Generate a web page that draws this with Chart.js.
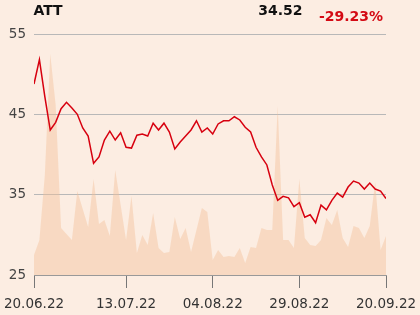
<!DOCTYPE html>
<html>
<head>
<meta charset="utf-8">
<script src="https://cdn.jsdelivr.net/npm/chart.js@4"></script>
<style>
  html, body { margin: 0; padding: 0; background: #fcede2; }
  #wrap { width: 420px; height: 315px; }
</style>
</head>
<body>
<div id="wrap"><canvas id="chart" width="420" height="315"></canvas></div>
<script>
    const symbol = 'ATT';
    const lastPrice = '34.52';
    const change = '-29.23%';

    // tick labels and the trading-day index they sit on
    const tickDates = ['20.06.22', '13.07.22', '04.08.22', '29.08.22', '20.09.22'];
    const tickIndex = [0, 17, 33, 49, 65];

    // closing prices, one per trading day
    const prices = [
        48.78, 51.8, 47.2, 43.05, 44.0, 45.7, 46.5, 45.8, 45.0, 43.3,
        42.3, 38.9, 39.7, 41.8, 42.9, 41.8, 42.7, 40.9, 40.8, 42.4,
        42.55, 42.3, 43.9, 43.05, 43.9, 42.8, 40.7, 41.55, 42.3, 43.05,
        44.2, 42.8, 43.3, 42.55, 43.8, 44.2, 44.2, 44.7, 44.3, 43.4,
        42.8, 40.9, 39.7, 38.7, 36.2, 34.3, 34.8, 34.6, 33.5, 34.0,
        32.2, 32.5, 31.5, 33.7, 33.1, 34.3, 35.2, 34.7, 35.95, 36.7,
        36.45, 35.7, 36.45, 35.7, 35.45, 34.52
    ];

    // traded volume (relative units), same days
    const volumes = [
        20, 35, 100, 221, 170, 47, 41, 35, 84, 66,
        48, 96, 51, 55, 39, 105, 70, 35, 79, 22,
        40, 30, 62, 27, 22, 23, 58, 36, 47, 23,
        45, 67, 63, 15, 25, 18, 19, 18, 27, 12,
        28, 27, 47, 45, 45, 169, 35, 35, 27, 96,
        37, 30, 29, 35, 57, 50, 65, 37, 28, 49,
        47, 37, 49, 93, 25, 39
    ];

    const dayIdx = prices.map((_, i) => i);

    const headerPlugin = {
        id: 'header',
        beforeDraw(chart) {
            const ctx = chart.ctx;
            ctx.save();
            ctx.fillStyle = '#fcede2';
            ctx.fillRect(0, 0, chart.width, chart.height);
            ctx.restore();
        },
        afterDraw(chart) {
            const ctx = chart.ctx;
            ctx.save();
            ctx.font = 'bold 14px "DejaVu Sans"';
            ctx.textBaseline = 'alphabetic';
            ctx.fillStyle = '#111';
            ctx.textAlign = 'left';
            ctx.fillText(symbol, 33.5, 15);
            ctx.textAlign = 'right';
            ctx.fillText(lastPrice, 302.5, 15);
            ctx.fillStyle = '#d40a14';
            ctx.textAlign = 'left';
            ctx.fillText(change, 319, 21);
            ctx.restore();
        }
    };

    new Chart(document.getElementById('chart').getContext('2d'), {
        type: 'line',
        data: {
            labels: dayIdx,
            datasets: [{
                data: prices,
                yAxisID: 'y',
                borderColor: '#d7000f',
                borderWidth: 1.5,
                pointRadius: 0,
                tension: 0,
                fill: false,
                order: 0
            }, {
                data: volumes,
                yAxisID: 'vol',
                borderWidth: 0,
                pointRadius: 0,
                tension: 0,
                fill: 'origin',
                backgroundColor: 'rgba(244,190,150,0.42)',
                order: 1
            }]
        },
        options: {
            responsive: false,
            animation: false,
            layout: { padding: { top: 34, right: 34, left: 0, bottom: 0 } },
            plugins: { legend: { display: false }, tooltip: { enabled: false } },
            scales: {
                x: {
                    type: 'linear',
                    min: 0,
                    max: 65,
                    afterBuildTicks: s => { s.ticks = tickIndex.map(v => ({ value: v })); },
                    afterFit: s => {
                        s.height = 40;
                        s.paddingLeft = 0;
                        s.paddingRight = 0;
                    },
                    grid: { drawOnChartArea: false, drawTicks: true, tickLength: 13, color: '#777' },
                    border: { display: true, color: '#999' },
                    ticks: {
                        autoSkip: false,
                        maxRotation: 0,
                        padding: 8,
                        color: '#333',
                        font: { family: 'DejaVu Sans', size: 13.5 },
                        callback: v => tickDates[tickIndex.indexOf(v)]
                    }
                },
                y: {
                    min: 25,
                    max: 55,
                    afterFit: s => {
                        s.width = 34;
                        s.paddingTop = 0;
                        s.paddingBottom = 0;
                    },
                    ticks: {
                        stepSize: 10,
                        padding: 8,
                        color: '#444',
                        font: { family: 'DejaVu Sans', size: 13.5 }
                    },
                    grid: { color: '#b8b8b8', drawTicks: false },
                    border: { display: false }
                },
                vol: {
                    display: false,
                    min: 0,
                    max: 241
                }
            }
        },
        plugins: [headerPlugin]
    });
</script>
</body>
</html>
